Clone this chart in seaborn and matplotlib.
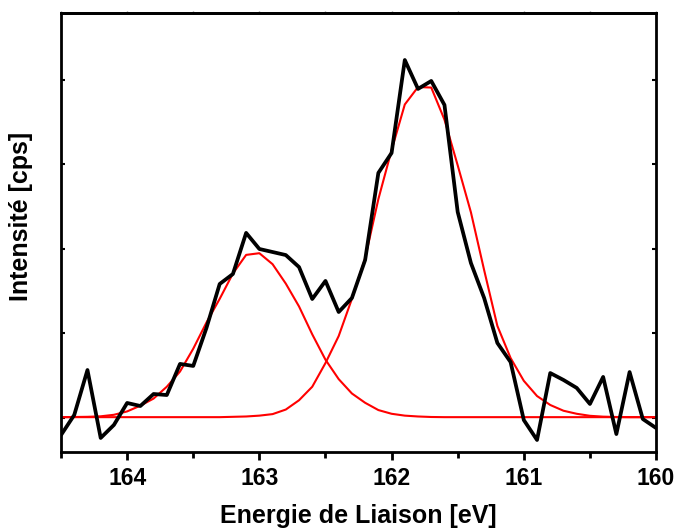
import matplotlib
matplotlib.use("Agg")
import matplotlib.pyplot as plt
import seaborn as sns
import pandas as pd

# --- data (binding energy grid, 0.1 eV steps) ---
energie = [164.5, 164.4, 164.3, 164.2, 164.1, 164.0, 163.9, 163.8, 163.7, 163.6,
           163.5, 163.4, 163.3, 163.2, 163.1, 163.0, 162.9, 162.8, 162.7, 162.6,
           162.5, 162.4, 162.3, 162.2, 162.1, 162.0, 161.9, 161.8, 161.7, 161.6,
           161.5, 161.4, 161.3, 161.2, 161.1, 161.0, 160.9, 160.8, 160.7, 160.6,
           160.5, 160.4, 160.3, 160.2, 160.1, 160.0]

# measured spectrum (cps)
mesure = [1899, 2018, 2284, 1882, 1959, 2089, 2071, 2142, 2136, 2320,
          2308, 2533, 2793, 2852, 3095, 3000, 2982, 2964, 2893, 2704,
          2811, 2627, 2710, 2935, 3450, 3568, 4118, 3947, 3994, 3852,
          3219, 2917, 2710, 2444, 2331, 1988, 1870, 2266, 2225, 2178,
          2083, 2243, 1905, 2272, 1994, 1941]

fond = 2005

# fitted components, height above the background (cps)
pic_1 = [0, 1, 2, 5, 14, 34, 68, 110, 180, 270,
         405, 560, 700, 850, 960, 970, 905, 790, 655, 490,
         340, 225, 140, 85, 42, 20, 9, 4, 1, 0,
         0, 0, 0, 0, 0, 0, 0, 0, 0, 0,
         0, 0, 0, 0, 0, 0]

pic_2 = [0, 0, 0, 0, 0, 0, 0, 0, 0, 0,
         0, 0, 0, 2, 4, 9, 18, 45, 100, 180,
         320, 480, 700, 940, 1290, 1580, 1850, 1953, 1950, 1760,
         1490, 1212, 870, 540, 350, 215, 125, 72, 38, 20,
         8, 3, 1, 0, 0, 0]

df = pd.DataFrame({
    "E": energie,
    "mesure": mesure,
    "pic1": [fond + v for v in pic_1],
    "pic2": [fond + v for v in pic_2],
})

sns.set_style("ticks", {"axes.edgecolor": "black", "text.color": "black",
                        "xtick.color": "black", "ytick.color": "black",
                        "axes.labelcolor": "black"})
plt.rcParams['font.family'] = ['Liberation Sans', 'DejaVu Sans']
plt.rcParams['font.weight'] = 'bold'

fig, ax = plt.subplots(figsize=(6.75, 5.29), dpi=100)
fig.subplots_adjust(left=0.0904, right=0.9719, bottom=0.1456, top=0.9754)

sns.lineplot(data=df, x="E", y="pic1", color="#ff0000", linewidth=1.5, ax=ax)
sns.lineplot(data=df, x="E", y="pic2", color="#ff0000", linewidth=1.5, ax=ax)
sns.lineplot(data=df, x="E", y="mesure", color="black", linewidth=2.7, ax=ax)

ax.set_xlim(164.5, 160)
ax.set_ylim(1799, 4396)

ax.set_xticks([164, 163, 162, 161, 160])
ax.set_xticks([164.5, 163.5, 162.5, 161.5, 160.5], minor=True)
ax.set_xticklabels(["164", "163", "162", "161", "160"], fontsize=16.5, fontweight='bold')
ax.tick_params(axis='x', which='major', direction='out', length=6, width=2, pad=5)
ax.tick_params(axis='x', which='minor', direction='out', length=4, width=2)

ax.set_yticks([2000, 2500, 3000, 3500, 4000])
ax.set_yticklabels([])
ax.tick_params(axis='y', which='major', direction='in', length=3, width=1.5,
               left=True, right=True)

top = ax.secondary_xaxis('top')
top.set_xticks([164.5, 164, 163.5, 163, 162.5, 162, 161.5, 161, 160.5, 160])
top.set_xticklabels([])
top.tick_params(direction='out', length=1.5, width=1, color='#888888')

for s in ax.spines.values():
    s.set_linewidth(2)
    s.set_color("black")
    s.set_visible(True)
top.spines['top'].set_linewidth(2)
top.spines['top'].set_color("black")

ax.set_xlabel("Energie de Liaison [eV]", fontsize=18, fontweight='bold', labelpad=10)
ax.set_ylabel("Intensité [cps]", fontsize=18, fontweight='bold')
ax.yaxis.set_label_coords(-0.047, 0.5376)

fig.savefig("out.png", dpi=100)
